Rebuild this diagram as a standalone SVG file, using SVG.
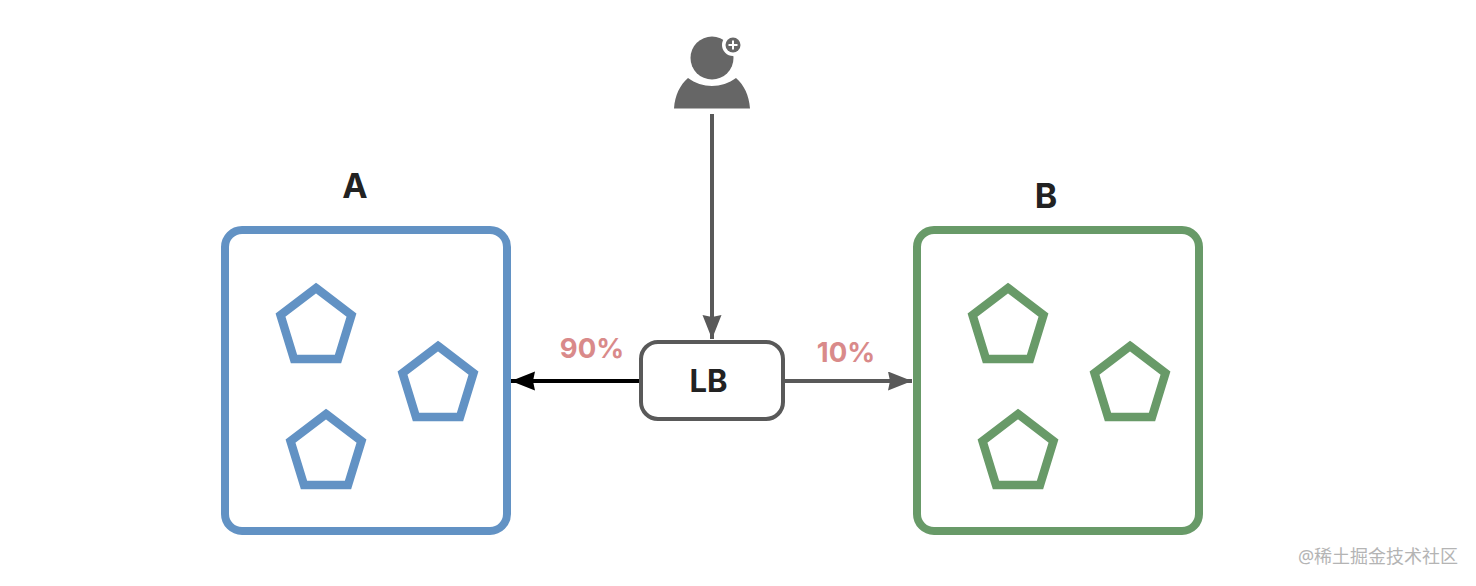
<svg xmlns="http://www.w3.org/2000/svg" width="1476" height="586" viewBox="0 0 1476 586">
<style>
.t{font-family:Inter,"Liberation Sans",sans-serif;font-weight:700;fill:#222;text-anchor:middle}
.p{font-family:Inter,"Liberation Sans",sans-serif;font-weight:700;fill:#d98a8a;font-size:27.500px;text-anchor:middle}
.box{fill:none;stroke-width:8}
.pen{fill:none;stroke-width:8.500}
.blue{stroke:#6292c4}
.green{stroke:#689a68}
</style>
<defs>
<marker id="ag" markerUnits="userSpaceOnUse" markerWidth="26" markerHeight="20" refX="24" refY="9.500" orient="auto"><path d="M0 0L24 9.500L0 19L2 9.500Z" fill="#595959"/></marker>
<marker id="ak" markerUnits="userSpaceOnUse" markerWidth="26" markerHeight="20" refX="24" refY="9.500" orient="auto"><path d="M0 0L24 9.500L0 19L2 9.500Z" fill="#000"/></marker>
<path id="pent" d="M0 5L35.500 32L22 76H-22L-35.500 32Z"/>
</defs>
<rect width="1476" height="586" fill="#fff"/>
<g id="connectors" fill="none" stroke-width="4">
<path d="M712 114V339" stroke="#595959" marker-end="url(#ag)"/>
<path d="M640 381H511" stroke="#000" marker-end="url(#ak)"/>
<path d="M784 381H912" stroke="#595959" marker-end="url(#ag)"/>
</g>
<g id="user">
<circle cx="712" cy="58" r="21.500" fill="#666"/>
<path d="M674 108.500C675 95 680 85 688 78C702 88.500 722 88.500 736 78C744 85 749 95 750 108.500Z" fill="#666"/>
<circle cx="733" cy="45" r="11" fill="#fff"/>
<circle cx="733" cy="45" r="7.500" fill="#666"/>
<path d="M733 40.500V49.500M728.500 45H737.500" stroke="#fff" stroke-width="2"/>
</g>
<g id="group-a">
<rect class="box blue" x="225" y="230" width="282" height="301" rx="17"/>
<text class="t" x="355" y="198" font-size="34">A</text>
<use href="#pent" class="pen blue" x="316" y="283"/>
<use href="#pent" class="pen blue" x="438" y="341"/>
<use href="#pent" class="pen blue" x="326" y="409"/>
</g>
<g id="group-b">
<rect class="box green" x="917" y="230" width="282" height="301" rx="17"/>
<text class="t" x="1046" y="208" font-size="34">B</text>
<use href="#pent" class="pen green" x="1008" y="283"/>
<use href="#pent" class="pen green" x="1130" y="341"/>
<use href="#pent" class="pen green" x="1018" y="409"/>
</g>
<g id="lb">
<rect x="641" y="342" width="142" height="77" rx="17" fill="#fff" stroke="#595959" stroke-width="4"/>
<text class="t" x="708.500" y="392" font-size="31">LB</text>
</g>
<text class="p" x="592" y="358">90%</text>
<text class="p" x="846" y="362">10%</text>
<text x="1378" y="563" font-family="'Noto Sans','Noto Sans CJK SC',sans-serif" font-size="18" fill="#b4b4b4" text-anchor="middle">@稀土掘金技术社区</text>
</svg>
